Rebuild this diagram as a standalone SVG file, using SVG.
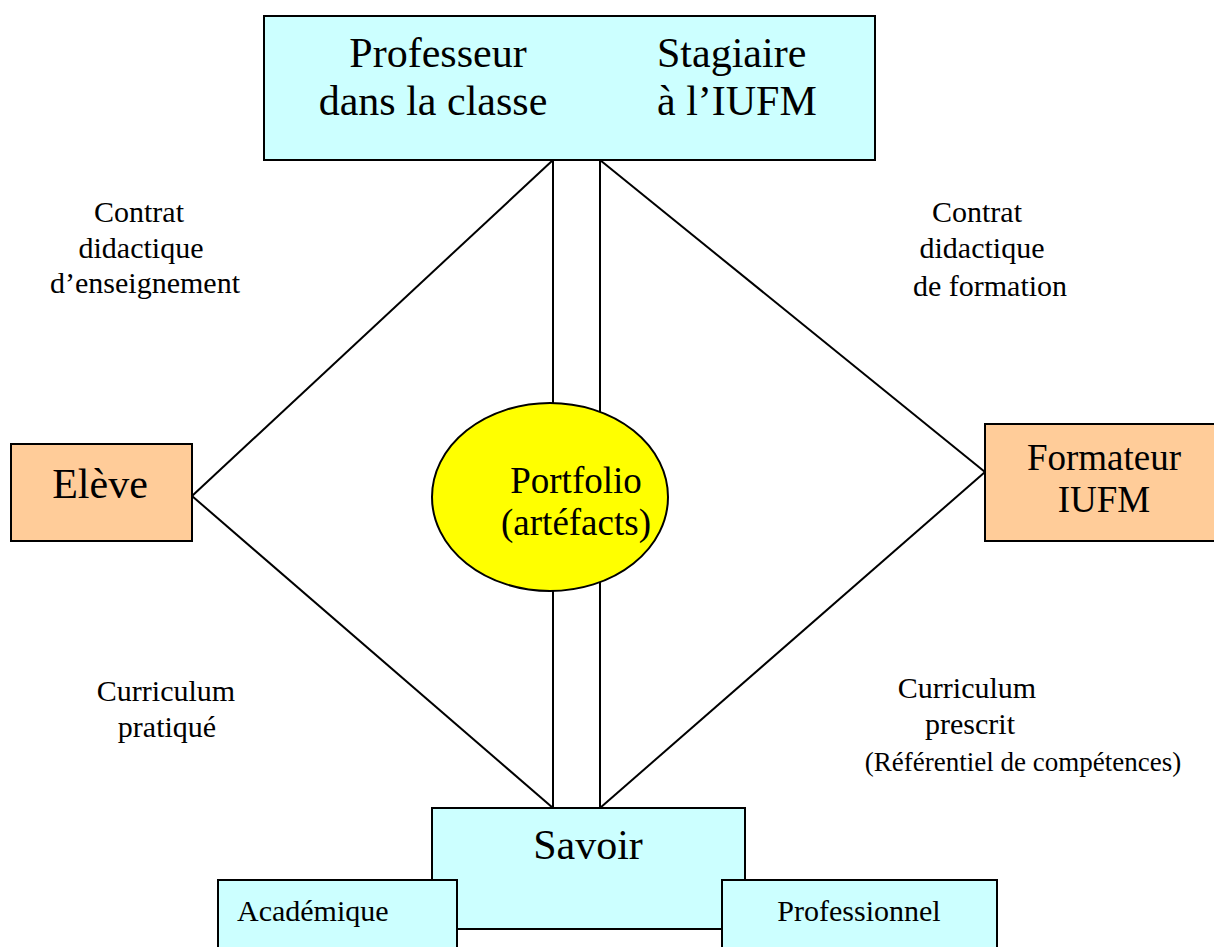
<svg xmlns="http://www.w3.org/2000/svg" width="1214" height="947" viewBox="0 0 1214 947">
<style>
text{font-family:"Liberation Serif","Times New Roman",serif;fill:#000}
.box{stroke:#000;stroke-width:2}
.cyan{fill:#ccffff}
.orange{fill:#ffcc99}
.big{font-size:42px}
.mid{font-size:37px}
.lab{font-size:30px}
.sub{font-size:30px}
.c{text-anchor:middle}
.ln{stroke:#000;stroke-width:2;fill:none}
</style>
<rect width="1214" height="947" fill="#fff"/>
<g id="connectors">
<line class="ln" x1="553" y1="160" x2="192" y2="496"/>
<line class="ln" x1="600" y1="160" x2="985" y2="472"/>
<line class="ln" x1="192" y1="496" x2="553" y2="808"/>
<line class="ln" x1="985" y1="472" x2="600" y2="808"/>
<line class="ln" x1="553" y1="160" x2="553" y2="420"/>
<line class="ln" x1="600" y1="160" x2="600" y2="420"/>
<line class="ln" x1="553" y1="580" x2="553" y2="808"/>
<line class="ln" x1="600" y1="580" x2="600" y2="808"/>
</g>
<g id="professeur">
<rect class="box cyan" x="264" y="16" width="611" height="144"/>
<text class="big c" x="438" y="67">Professeur</text>
<text class="big c" x="433" y="115">dans la classe</text>
<text class="big" x="657" y="67">Stagiaire</text>
<text class="big" x="657" y="115">à l’IUFM</text>
</g>
<g id="eleve">
<rect class="box orange" x="11" y="444" width="181" height="97"/>
<text class="big c" x="100" y="498">Elève</text>
</g>
<g id="formateur">
<rect class="box orange" x="985" y="424" width="232" height="117"/>
<text class="mid c" x="1104" y="470">Formateur</text>
<text class="mid c" x="1104" y="512">IUFM</text>
</g>
<g id="portfolio">
<ellipse class="box" fill="#ffff00" cx="550" cy="497" rx="118" ry="94"/>
<text class="mid c" x="576" y="493">Portfolio</text>
<text class="mid c" x="576" y="535">(artéfacts)</text>
</g>
<g id="savoir">
<rect class="box cyan" x="432" y="808" width="313" height="121"/>
<text class="big c" x="588" y="859">Savoir</text>
</g>
<g id="academique">
<rect class="box cyan" x="218" y="880" width="239" height="80"/>
<text class="sub" x="237" y="921">Académique</text>
</g>
<g id="professionnel">
<rect class="box cyan" x="722" y="880" width="275" height="80"/>
<text class="sub c" x="859" y="921">Professionnel</text>
</g>
<g id="labels">
<text class="lab c" x="139" y="222">Contrat</text>
<text class="lab c" x="141" y="258">didactique</text>
<text class="lab c" x="145" y="293">d’enseignement</text>
<text class="lab c" x="977" y="222">Contrat</text>
<text class="lab c" x="982" y="258">didactique</text>
<text class="lab c" x="990" y="296">de formation</text>
<text class="lab c" x="166" y="701">Curriculum</text>
<text class="lab c" x="167" y="737">pratiqué</text>
<text class="lab c" x="967" y="698">Curriculum</text>
<text class="lab c" x="970" y="734">prescrit</text>
<text class="c" style="font-size:27px" x="1023" y="771">(Référentiel de compétences)</text>
</g>
</svg>
